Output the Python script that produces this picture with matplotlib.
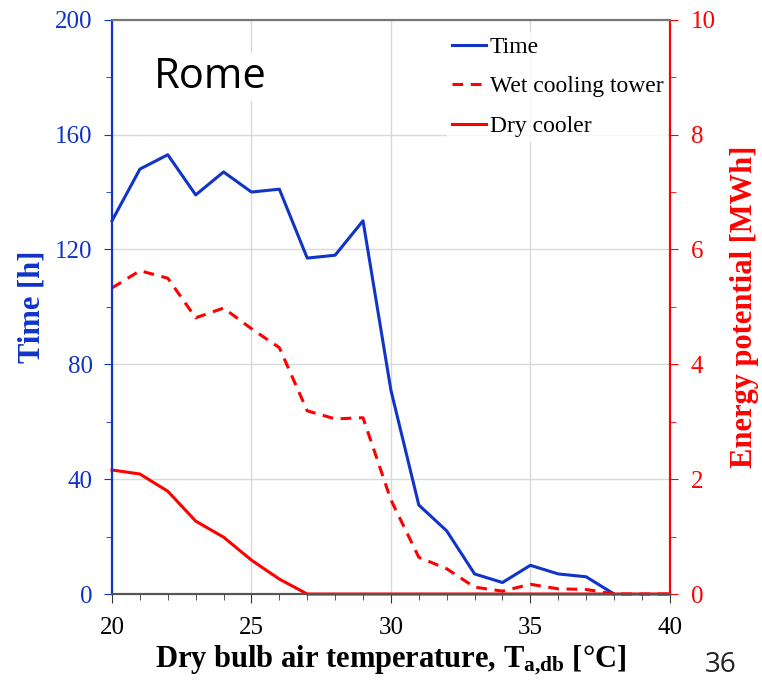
import numpy as np
import matplotlib
matplotlib.use("Agg")
import matplotlib.pyplot as plt
from matplotlib.ticker import MultipleLocator

plt.rcParams['font.family'] = 'Liberation Serif'
plt.rcParams['mathtext.fontset'] = 'custom'
plt.rcParams['mathtext.rm'] = 'Liberation Serif:bold'
plt.rcParams['mathtext.it'] = 'Liberation Serif:bold'

# data
temperature = [20, 21, 22, 23, 24, 25, 26, 27, 28, 29, 30, 31, 32, 33, 34, 35, 36, 37, 38]
time_h = [130, 148, 153, 139, 147, 140, 141, 117, 118, 130, 71, 31, 22, 7, 4, 10, 7, 6, 0]

temp_energy = [20, 21, 22, 23, 24, 25, 26, 27, 28, 29, 30, 31, 32, 33, 34, 35, 36, 37, 38, 39, 40]
wet_tower = [5.33, 5.63, 5.5, 4.81, 4.98, 4.62, 4.29, 3.19, 3.05, 3.07, 1.64, 0.64, 0.44,
             0.12, 0.05, 0.17, 0.09, 0.08, 0.0, 0.0, 0.0]
dry_cooler = [2.16, 2.09, 1.79, 1.27, 0.99, 0.59, 0.26, 0.0, 0.0, 0.0, 0.0, 0.0, 0.0,
              0.0, 0.0, 0.0, 0.0, 0.0, 0.0, 0.0, 0.0]

blue = '#1034c8'
red = '#ff0000'

fig = plt.figure(figsize=(7.62, 6.82), dpi=100)
ax = fig.add_axes([0.147, 0.129, 0.732, 0.842])
ax2 = ax.twinx()

l1, = ax.plot(temperature, time_h, color=blue, lw=2.2, clip_on=False, zorder=3)
l2, = ax2.plot(temp_energy, wet_tower, color=red, lw=2.2, dashes=(3.5, 2.5), clip_on=False)
l3, = ax2.plot(temp_energy, dry_cooler, color=red, lw=2.2, clip_on=False)

ax.set_xlim(20, 40)
ax.set_ylim(0, 200)
ax2.set_ylim(0, 10)

ax.xaxis.set_major_locator(MultipleLocator(5))
ax.xaxis.set_minor_locator(MultipleLocator(1))
ax.yaxis.set_major_locator(MultipleLocator(40))
ax.yaxis.set_minor_locator(MultipleLocator(20))
ax2.yaxis.set_major_locator(MultipleLocator(2))
ax2.yaxis.set_minor_locator(MultipleLocator(1))

ax.grid(True, which='major', color='#d9d9d9', lw=1.0)
ax.set_axisbelow(True)

ax.tick_params(axis='x', which='major', length=6.5, labelsize=18, colors='#333333',
               labelcolor='black', pad=10)
ax.tick_params(axis='x', which='minor', length=4.5, colors='#333333')
ax.tick_params(axis='y', which='major', length=6, labelsize=18, colors=blue, pad=8)
ax.tick_params(axis='y', which='minor', length=4.5, colors=blue)
ax2.tick_params(axis='y', which='major', length=6, labelsize=18, colors=red, pad=9)
ax2.tick_params(axis='y', which='minor', length=4.5, colors=red)

for a in (ax, ax2):
    a.spines['left'].set_color(blue)
    a.spines['right'].set_color(red)
    a.spines['top'].set_color('#777777')
    a.spines['bottom'].set_color('#555555')
    for s in a.spines.values():
        s.set_linewidth(1.5)

ax.set_xlabel(r'Dry bulb air temperature, T$_{\rm a{,}db}$ [°C]', fontsize=22, fontweight='bold', labelpad=3)
ax.set_ylabel('Time [h]', fontsize=22, fontweight='bold', color=blue, labelpad=6)
ax2.set_ylabel('Energy potential [MWh]', fontsize=22, fontweight='bold', color=red, labelpad=10)

ax.text(0.075, 0.9, 'Rome', transform=ax.transAxes, fontsize=30, family='Open Sans',
        ha='left', va='center', bbox=dict(fc='white', ec='none', pad=2), zorder=4)

ax2.legend([l1, l2, l3], ['Time', 'Wet cooling tower', 'Dry cooler'],
           loc='upper left', bbox_to_anchor=(0.58, 1.0), frameon=True, facecolor='white',
           edgecolor='none', fancybox=False, fontsize=17, handlelength=1.44,
           handletextpad=0.15, labelspacing=0.76, borderpad=0.2)

# page number, kept fully inside the figure
fig.text(0.946, 0.004, '36', fontsize=20, family='Open Sans', color='#222222',
         ha='center', va='bottom')

fig.savefig('out.png', dpi=100)
